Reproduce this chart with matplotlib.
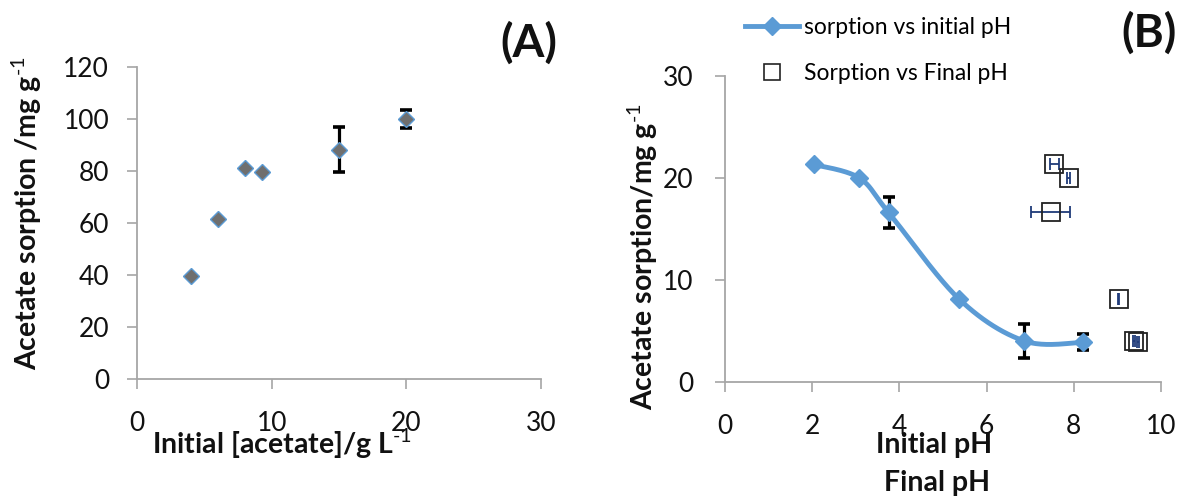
import numpy as np
import matplotlib
matplotlib.use("Agg")
import matplotlib.pyplot as plt
from matplotlib.lines import Line2D

plt.rcParams['font.family'] = ['Lato', 'DejaVu Sans']
plt.rcParams['mathtext.fontset'] = 'custom'
plt.rcParams['mathtext.rm'] = 'Lato'
plt.rcParams['mathtext.bf'] = 'Lato:bold'
plt.rcParams['mathtext.it'] = 'Lato:italic'

# ---------------- data ----------------
# Panel A: sorption vs initial acetate concentration
conc_a = [4.0, 6.0, 8.0, 9.25, 15.0, 20.0]
sorp_a = [39.5, 61.6, 81.0, 79.4, 88.1, 99.9]
err_a = [0.0, 0.0, 0.0, 0.0, 8.6, 3.3]

# Panel B: sorption vs initial / final pH
ph_initial = [2.03, 3.07, 3.75, 5.37, 6.86, 8.22]
sorp_b = [21.3, 20.0, 16.6, 8.1, 4.0, 3.86]
err_b = [0.0, 0.0, 1.5, 0.0, 1.63, 0.77]
ph_final = [7.55, 7.88, 7.47, 9.03, 9.38, 9.48]
ph_final_err = [0.10, 0.03, 0.45, 0.01, 0.02, 0.02]

x_ticks_a = [0, 10, 20, 30]
y_ticks_a = [0, 20, 40, 60, 80, 100, 120]
x_ticks_b = [0, 2, 4, 6, 8, 10]
y_ticks_b = [0, 10, 20, 30]

BLUE = '#5b9bd5'
GREY_MARK = '#6f6f6f'
SPINE = '#a6a6a6'
NAVY = '#1f3a78'
TXT = '#111111'
SUP = '$^{\\text{-1}}$'


def catmull_rom(x, y, n=40):
    x = np.asarray(x, float)
    y = np.asarray(y, float)
    P = np.column_stack([x, y])
    P = np.vstack([P[0], P, P[-1]])
    out = []
    t = np.linspace(0, 1, n)
    for i in range(1, len(P) - 2):
        p0, p1, p2, p3 = P[i - 1], P[i], P[i + 1], P[i + 2]
        t2 = t * t
        t3 = t2 * t
        seg = 0.5 * ((2 * p1)[None, :] + (-p0 + p2)[None, :] * t[:, None]
                     + (2 * p0 - 5 * p1 + 4 * p2 - p3)[None, :] * t2[:, None]
                     + (-p0 + 3 * p1 - 3 * p2 + p3)[None, :] * t3[:, None])
        out.append(seg if i == 1 else seg[1:])
    seg = np.vstack(out)
    return seg[:, 0], seg[:, 1]


def style_axes(ax, ypad):
    for s in ['top', 'right']:
        ax.spines[s].set_visible(False)
    for s in ['left', 'bottom']:
        ax.spines[s].set_color(SPINE)
        ax.spines[s].set_linewidth(1.3)
    ax.tick_params(axis='both', direction='out', length=7, width=1.2,
                   color=SPINE, labelsize=19, labelcolor=TXT)
    ax.tick_params(axis='y', pad=ypad)
    ax.tick_params(axis='x', pad=16)


fig = plt.figure(figsize=(11.79, 4.96), dpi=100)

# ---------------- Panel A ----------------
axA = fig.add_axes([137 / 1179, 1 - 379.4 / 496, (541 - 137) / 1179, (379.4 - 66.7) / 496])
style_axes(axA, 13)
axA.set_xlim(0, 30)
axA.set_ylim(0, 120)
axA.set_xticks(x_ticks_a)
axA.set_yticks(y_ticks_a)
ea = np.array(err_a)
mask = ea > 0
axA.errorbar(np.array(conc_a)[mask], np.array(sorp_a)[mask], yerr=ea[mask], fmt='none',
             ecolor='black', elinewidth=2.3, capsize=4.3, capthick=2.6, zorder=2)
axA.plot(conc_a, sorp_a, linestyle='none', marker='D', markersize=8.5,
         markerfacecolor=GREY_MARK, markeredgecolor=BLUE, markeredgewidth=1.0, zorder=3)
axA.set_ylabel('Acetate sorption /mg g' + SUP, fontsize=20.5, fontweight='bold', color=TXT)
axA.yaxis.set_label_coords((26.5 - 137) / 404, (379.4 - 213) / 312.7)
axA.yaxis.label.set_va('center')
axA.set_xlabel('Initial [acetate]/g L' + SUP, fontsize=20.5, fontweight='bold', color=TXT)
axA.xaxis.set_label_coords((282 - 137) / 404, (379.4 - 444) / 312.7)
axA.xaxis.label.set_va('center')
fig.text(529 / 1179, 1 - 42.5 / 496, '(A)', fontsize=33, fontweight='bold',
         ha='center', va='center', color=TXT)

# ---------------- Panel B ----------------
axB = fig.add_axes([725 / 1179, 1 - 381.7 / 496, (1161 - 725) / 1179, (381.7 - 75.7) / 496])
style_axes(axB, 16)
axB.set_xlim(0, 10)
axB.set_ylim(0, 30)
axB.set_xticks(x_ticks_b)
axB.set_yticks(y_ticks_b)

sx, sy = catmull_rom(ph_initial, sorp_b)
axB.plot(sx, sy, color=BLUE, linewidth=3.5, solid_capstyle='round', zorder=2)
eb = np.array(err_b)
mb = eb > 0
axB.errorbar(np.array(ph_initial)[mb], np.array(sorp_b)[mb], yerr=eb[mb], fmt='none',
             ecolor='black', elinewidth=2.3, capsize=4.3, capthick=2.6, zorder=3)
axB.plot(ph_initial, sorp_b, linestyle='none', marker='D', markersize=9.5,
         markerfacecolor=BLUE, markeredgecolor=BLUE, zorder=4)

axB.errorbar(ph_final, sorp_b, xerr=ph_final_err, fmt='none', ecolor=NAVY,
             elinewidth=1.3, capsize=4.5, capthick=1.3, zorder=5)
axB.plot(ph_final, sorp_b, linestyle='none', marker='s', markersize=13.5,
         markerfacecolor='none', markeredgecolor='#222222', markeredgewidth=1.3, zorder=6)

axB.set_ylabel('Acetate sorption/mg g' + SUP, fontsize=20.5, fontweight='bold', color=TXT)
axB.yaxis.set_label_coords((643 - 725) / 436, (381.7 - 256.5) / 306)
axB.yaxis.label.set_va('center')
axB.set_xlabel('Initial pH', fontsize=20.5, fontweight='bold', color=TXT)
axB.xaxis.set_label_coords((934 - 725) / 436, (381.7 - 445) / 306)
axB.xaxis.label.set_va('center')
fig.text(937 / 1179, 1 - 483 / 496, 'Final pH', fontsize=20.5, fontweight='bold',
         ha='center', va='center', color=TXT)
fig.text(1149 / 1179, 1 - 33 / 496, '(B)', fontsize=33, fontweight='bold',
         ha='center', va='center', color=TXT)

h1 = Line2D([], [], color=BLUE, linewidth=3.5, marker='D', markersize=9.5,
            markerfacecolor=BLUE, markeredgecolor=BLUE)
h2 = Line2D([], [], linestyle='none', marker='s', markersize=11,
            markerfacecolor='none', markeredgecolor='#222222', markeredgewidth=1.2)
fig.legend([h1, h2], ['sorption vs initial pH', 'Sorption vs Final pH'],
           loc='upper left', bbox_to_anchor=(745 / 1179, 1 - 17 / 496),
           frameon=False, fontsize=16.5, handlelength=2.36, handletextpad=0.22,
           labelspacing=1.08, borderpad=0, borderaxespad=0)

fig.savefig('out.png', dpi=100)
